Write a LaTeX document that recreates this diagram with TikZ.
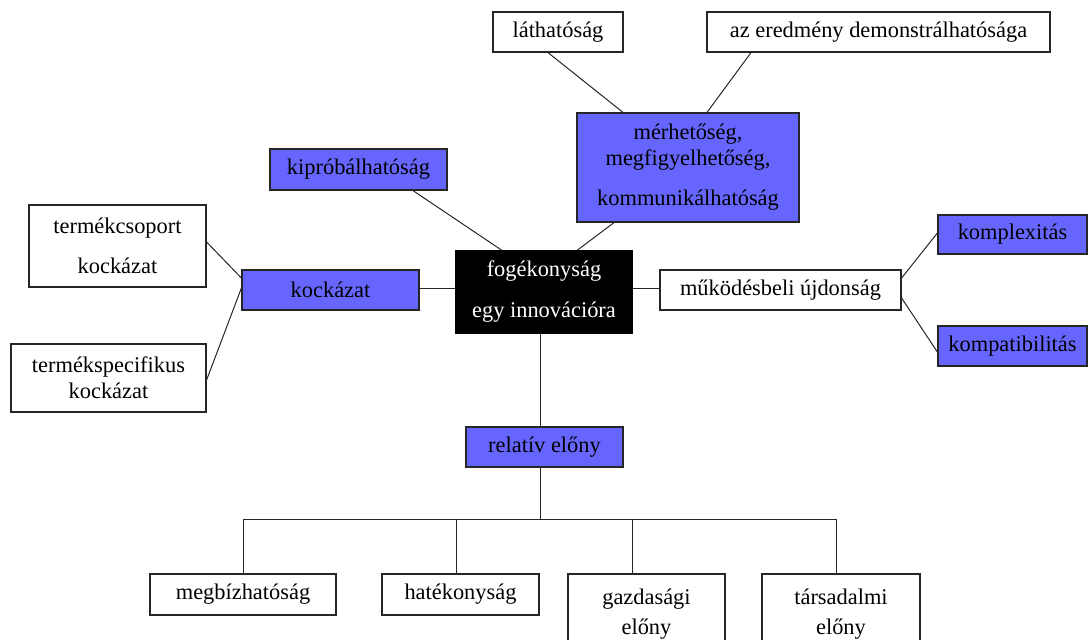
\documentclass[tikz,border=0pt]{standalone}
\usepackage{fontspec}
\setmainfont{Liberation Serif}
\usetikzlibrary{
    positioning,
    calc
}
\definecolor{kekszin}{RGB}{102,102,255}
\tikzset{
    doboz/.style={
        draw=black!85,
        line width=0.6pt,
        fill=white,
        inner sep=0pt,
        align=center,
        font=\fontsize{11.2}{13}\selectfont
    },
    kek/.style={doboz, fill=kekszin},
    fekete/.style={doboz, draw=black, fill=black, text=white},
    vonal/.style={line width=0.5pt, draw=black!85}
}

\begin{document}
\begin{tikzpicture}[
    x=0.5pt,
    y=-0.5pt
]
    \useasboundingbox (0,0) rectangle (1088,639);

    % Kozepso csomopont
    \node[fekete, minimum width=88pt, minimum height=41pt]   (fog)    at (544,292)     {fogékonyság\\[7.5pt] egy innovációra};

    % Felso ag
    \node[doboz, minimum width=65pt, minimum height=20pt]    (lat)    at (558,32)      {láthatóság};
    \node[doboz, minimum width=171.5pt, minimum height=20pt] (eredm)  at (878.5,32)    {az eredmény demonstrálhatósága};
    \node[kek, minimum width=111pt, minimum height=54.5pt]   (merh)   at (688,167.5)   {mérhetőség,\\ megfigyelhetőség,\\[7pt] kommunikálhatóság};
    \node[kek, minimum width=88.5pt, minimum height=20.5pt]  (kipr)   at (358.5,169.5) {kipróbálhatóság};

    % Bal ag
    \node[kek, minimum width=88.5pt, minimum height=20pt]    (kock)   at (330.5,290)   {kockázat};
    \node[doboz, minimum width=88.5pt, minimum height=41pt]  (tcsop)  at (117.5,246)   {termékcsoport\\[7pt] kockázat};
    \node[doboz, minimum width=97.5pt, minimum height=34pt]  (tspec)  at (108.5,378)   {termékspecifikus\\ kockázat};

    % Jobb ag
    \node[doboz, minimum width=120.5pt, minimum height=20pt] (mukod)  at (780.5,290)   {működésbeli újdonság};
    \node[kek, minimum width=74.5pt, minimum height=19.5pt]  (kompl)  at (1012.5,234.5) {komplexitás};
    \node[kek, minimum width=74.5pt, minimum height=20pt]    (kompat) at (1012.5,346)  {kompatibilitás};

    % Also ag
    \node[kek, minimum width=78.5pt, minimum height=20pt]    (rel)    at (544.5,447)   {relatív előny};
    \node[doboz, minimum width=93pt, minimum height=20.5pt]  (megb)   at (243,594.5)   {megbízhatóság};
    \node[doboz, minimum width=78.5pt, minimum height=20.5pt] (hatek) at (460.5,594.5) {hatékonyság};
    \node[doboz, minimum width=78.5pt, minimum height=40pt]  (gazd)   at (646.5,614)   {gazdasági\\[2pt] előny};
    \node[doboz, minimum width=79pt, minimum height=40pt]    (tars)   at (841,614)     {társadalmi\\[2pt] előny};

    \coordinate (elag) at (540,519);

    % Kapcsolatok
    \draw[vonal] ($(lat.south)+(-10,0)$)      -- ($(merh.north)+(-65,0)$);
    \draw[vonal] ($(eredm.south)+(-127.5,0)$) -- ($(merh.north)+(19,0)$);
    \draw[vonal] ($(merh.south)+(-74,0)$)     -- ($(fog.north)+(33,0)$);
    \draw[vonal] ($(kipr.south)+(54.5,0)$)    -- ($(fog.north)+(-42,0)$);

    \draw[vonal] ($(tcsop.east)+(0,-4)$)      -- ($(kock.west)+(0,-12)$);
    \draw[vonal] ($(tspec.east)+(0,2)$)       -- ($(kock.west)+(0,-2)$);
    \draw[vonal] ($(kock.east)+(0,-2)$)       -- ($(fog.west)+(0,-4)$);

    \draw[vonal] ($(fog.east)+(0,-4)$)        -- ($(mukod.west)+(0,-2)$);
    \draw[vonal] ($(mukod.east)+(0,-12)$)     -- ($(kompl.west)+(0,-1.5)$);
    \draw[vonal] ($(mukod.east)+(0,8)$)       -- ($(kompat.west)+(0,6)$);

    \draw[vonal] ($(fog.south)+(-4,0)$)       -- ($(rel.north)+(-4.5,0)$);
    \draw[vonal] ($(rel.south)+(-4.5,0)$)     -- (elag);
    \foreach \n/\d in {megb/0, hatek/-4.5, gazd/-14.5, tars/-5}
        \draw[vonal] ($(\n.north)+(\d,0)$) |- (elag);

\end{tikzpicture}
\end{document}
